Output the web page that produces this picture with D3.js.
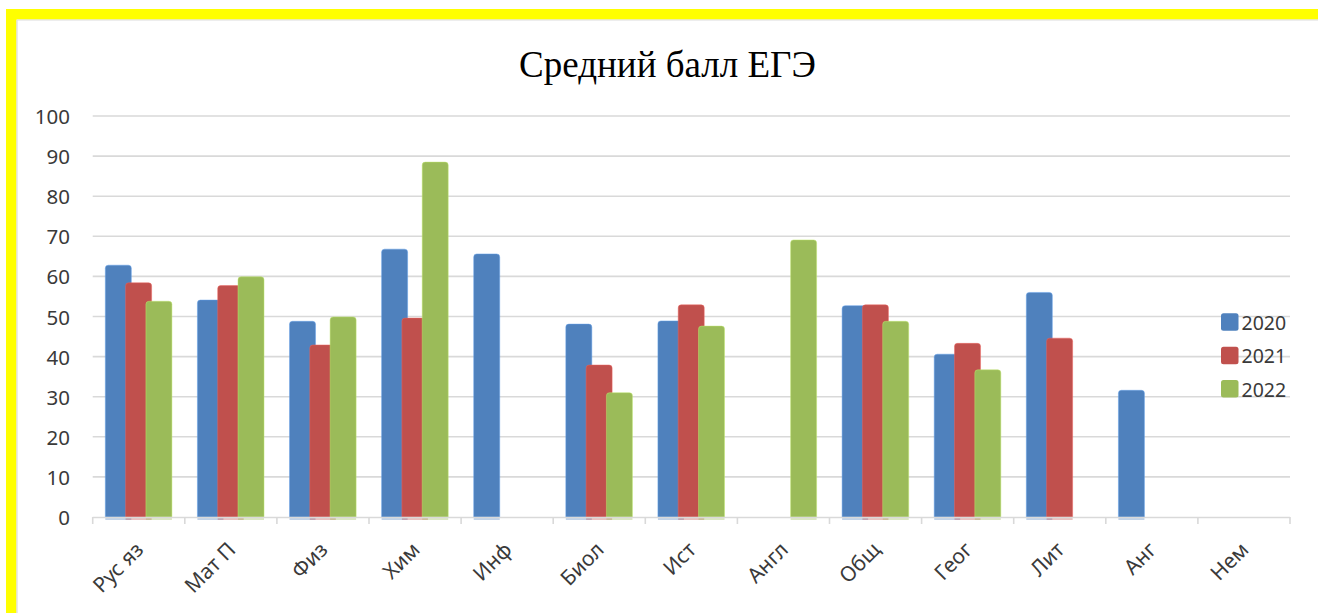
<!DOCTYPE html>
<html>
<head>
<meta charset="utf-8">
<script src="https://cdn.jsdelivr.net/npm/d3@7"></script>
<style>
  html, body { margin: 0; padding: 0; background: #ffffff; }
  svg { display: block; }
</style>
</head>
<body>
<svg id="chart" width="1318" height="613"></svg>
<script>
// ---- Data ----
const categories = ["Рус яз", "Мат П", "Физ", "Хим", "Инф", "Биол", "Ист", "Англ", "Общ", "Геог", "Лит", "Анг", "Нем"];
const seriesNames = ["2020", "2021", "2022"];
const values2020 = [62.8, 54.1, 48.8, 66.8, 65.6, 48.1, 48.9, null, 52.7, 40.6, 56.0, 31.6, null];
const values2021 = [58.4, 57.7, 42.9, 49.6, null, 37.9, 52.9, null, 52.9, 43.3, 44.6, null, null];
const values2022 = [53.8, 59.9, 49.9, 88.5, null, 31.0, 47.6, 69.1, 48.8, 36.7, null, null, null];
const yTicks = [0, 10, 20, 30, 40, 50, 60, 70, 80, 90, 100];
const colors = ["#4F81BD", "#C0504D", "#9BBB59"];
const titleText = "Средний балл ЕГЭ";

const seriesValues = [values2020, values2021, values2022];

const svg = d3.select("#chart");
const W = 1318, H = 613;

// Frame: yellow border with thin gray inner edge
svg.append("rect").attr("x", 0).attr("y", 0).attr("width", W).attr("height", H).attr("fill", "#ffffff");
svg.append("rect").attr("x", 6).attr("y", 9).attr("width", W - 6).attr("height", 10.5).attr("fill", "#FFFF00");
svg.append("rect").attr("x", 6).attr("y", 9).attr("width", 10.5).attr("height", H - 9).attr("fill", "#FFFF00");
svg.append("line").attr("x1", 17).attr("x2", W).attr("y1", 20).attr("y2", 20).attr("stroke", "#dcdcdc").attr("stroke-width", 1.2);
svg.append("line").attr("x1", 17).attr("x2", 17).attr("y1", 20).attr("y2", H).attr("stroke", "#dcdcdc").attr("stroke-width", 1.2);

// Title
svg.append("text")
  .attr("x", 667.5).attr("y", 76.5)
  .attr("text-anchor", "middle")
  .attr("font-family", "'Liberation Serif', 'Times New Roman', serif")
  .attr("font-size", 37)
  .attr("fill", "#000")
  .text(titleText);

// Scales
const x = d3.scaleBand().domain(categories).range([92.7, 1290]).padding(0);
const y = d3.scaleLinear().domain([0, 100]).range([517, 116]);
const bw = x.bandwidth();
const barW = bw * 0.2823;
const sub = d3.scaleLinear().domain([0, seriesNames.length - 1]).range([bw * 0.137, bw * (0.137 + 2 * 0.2204)]);

// Gridlines
svg.append("g").selectAll("line").data(yTicks.filter(t => t > 0)).join("line")
  .attr("x1", 92.7).attr("x2", 1290)
  .attr("y1", d => y(d)).attr("y2", d => y(d))
  .attr("stroke", "#d9d9d9").attr("stroke-width", 1.6);

// Y labels
svg.append("g").selectAll("text").data(yTicks).join("text")
  .attr("x", 70).attr("y", d => y(d))
  .attr("text-anchor", "end")
  .attr("dominant-baseline", "central")
  .attr("font-family", "'Noto Sans', 'Open Sans', sans-serif")
  .attr("font-size", 20.5)
  .attr("fill", "#3a3a3a")
  .text(d => d);

// Bars
function topRounded(x0, y0, w, h, r) {
  r = Math.min(r, h / 2, w / 2);
  return `M${x0},${y0 + h}V${y0 + r}Q${x0},${y0} ${x0 + r},${y0}H${x0 + w - r}Q${x0 + w},${y0} ${x0 + w},${y0 + r}V${y0 + h}Z`;
}
seriesValues.forEach((vals, si) => {
  const g = svg.append("g");
  const data = categories.map((c, i) => ({ c, v: vals[i] })).filter(d => d.v != null);
  g.selectAll("rect.refl").data(data).join("rect")
    .attr("class", "refl")
    .attr("x", d => x(d.c) + sub(si)).attr("y", y(0))
    .attr("width", barW).attr("height", 3)
    .attr("fill", colors[si]).attr("opacity", 0.35);
  g.selectAll("path").data(data).join("path")
    .attr("d", d => topRounded(x(d.c) + sub(si), y(d.v), barW, y(0) - y(d.v), 3))
    .attr("fill", colors[si])
    .attr("stroke", d3.color(colors[si]).brighter(0.6))
    .attr("stroke-opacity", 0.6)
    .attr("stroke-width", 0.8);
});

// X axis line and ticks
svg.append("line").attr("x1", 92.7).attr("x2", 1290).attr("y1", y(0) + 0.5).attr("y2", y(0) + 0.5)
  .attr("stroke", "#d9d9d9").attr("stroke-width", 1.6);
const boundaries = categories.map(c => x(c)).concat([x(categories[categories.length - 1]) + bw]);
svg.append("g").selectAll("line").data(boundaries).join("line")
  .attr("x1", d => d).attr("x2", d => d)
  .attr("y1", y(0)).attr("y2", y(0) + 7)
  .attr("stroke", "#d9d9d9").attr("stroke-width", 1.6);

// X labels rotated
svg.append("g").selectAll("text").data(categories).join("text")
  .attr("transform", d => `translate(${x(d) + bw / 2 + 6},${551}) rotate(-45)`)
  .attr("text-anchor", "end")
  .attr("font-family", "'Noto Sans', 'Open Sans', sans-serif")
  .attr("font-size", 21)
  .attr("fill", "#3a3a3a")
  .text(d => d);

// Legend
const legendY = [322.3, 355.7, 389];
const lg = svg.append("g");
seriesNames.forEach((s, i) => {
  lg.append("rect").attr("x", 1221).attr("y", legendY[i] - 9).attr("width", 17.5).attr("height", 17.5)
    .attr("rx", 2.5).attr("fill", colors[i]);
  lg.append("text").attr("x", 1241.5).attr("y", legendY[i])
    .attr("dominant-baseline", "central")
    .attr("font-family", "'Noto Sans', 'Open Sans', sans-serif")
    .attr("font-size", 19.5)
    .attr("fill", "#3a3a3a")
    .text(s);
});
</script>
</body>
</html>
